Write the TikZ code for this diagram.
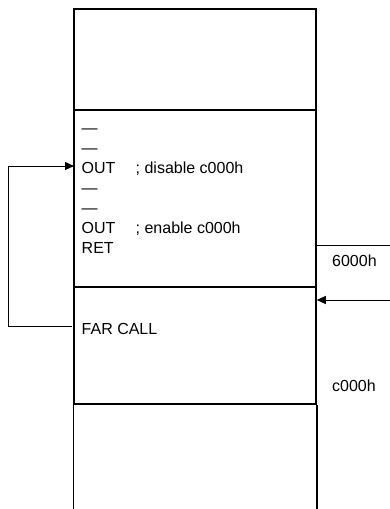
\documentclass[tikz,border=0pt]{standalone}
\usepackage{fontspec}
\setmainfont{Liberation Sans}
\usetikzlibrary{arrows.meta}

\begin{document}
\begin{tikzpicture} [x = 1pt, y = -1pt, blk/.style = {draw = black, line width = 1.5pt, minimum width = 242pt, inner sep = 0pt}, lbl/.style = {black, anchor = base west, inner sep = 0pt, font = \fontsize{16pt}{20pt}\selectfont}, conn/.style = {black, line width = 1pt, -{Triangle[length = 9pt, width = 8pt]}}]
\useasboundingbox (0, 0) rectangle (390, 509);
\node[blk, minimum height = 101pt] (blkA) at (195, 59.5){};
\node[blk, minimum height = 177pt] (blkB) at (195, 198.5){};
\node[blk, minimum height = 117pt] (blkC) at (195, 345.5){};
\draw[black, line width = 1.5pt] (blkC.south west) -- ++(0, 105);
\draw[black, line width = 1.5pt] (blkC.south east) -- ++(0, 105);
\node[lbl] (dashA) at (81.5, 133.3){---};
\node[lbl] (dashB) at (81.5, 153.3){---};
\node[lbl] (outA) at (81.5, 173.3){\makebox[54pt][l]{OUT}; disable c000h};
\node[lbl] (dashC) at (81.5, 193.3){---};
\node[lbl] (dashD) at (81.5, 213.3){---};
\node[lbl] (outB) at (81.5, 233.3){\makebox[54pt][l]{OUT}; enable c000h};
\node[lbl] (ret) at (81.5, 253.3){RET};
\node[lbl] (farcall) at (81.5, 334){FAR CALL};
\node[lbl] (lowaddr) at (332, 266.7){6000h};
\node[lbl] (highaddr) at (332, 391.7){c000h};
\draw[black, line width = 1pt] (blkB.east |- 0, 245) -- (390, 245);
\coordinate (callout) at (72, 326);
\coordinate (callin) at (74, 166);
\coordinate (entry) at (390, 300);
\draw[conn] (callout) -- ++(-64, 0) |- (callin);
\draw[conn] (entry) -- (blkC.east |- entry);
\end{tikzpicture}
\end{document}
